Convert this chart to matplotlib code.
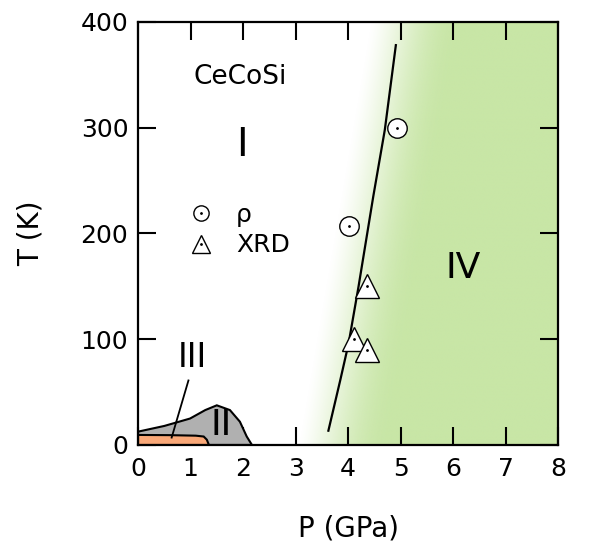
import numpy as np
import matplotlib
matplotlib.use("Agg")
import matplotlib.pyplot as plt
from matplotlib.legend_handler import HandlerTuple

# phase boundary I -> IV (line)
line_p = [3.625, 3.85, 4.01, 4.2, 4.48, 4.70, 4.91]
line_t = [13.5, 61, 96, 150, 235, 298, 378]

# phase II region (gray) outline
ph2_p = [0.0, 0.5, 0.99, 1.28, 1.5, 1.75, 1.94, 2.07, 2.17]
ph2_t = [12.6, 18, 25, 33, 37.5, 33, 22, 8, 0]

# phase III region (orange) outline
ph3_p = [0.0, 0.6, 1.1, 1.25, 1.31, 1.35]
ph3_t = [9.5, 9.3, 8.8, 8, 5, 0]

# data points
rho_p = [4.93, 4.02]
rho_t = [300, 207]
xrd_p = [4.36, 4.11, 4.36]
xrd_t = [150, 100, 90]

green = np.array([200, 230, 166]) / 255.0

fig = plt.figure(figsize=(5.95, 5.47), dpi=100)
ax = fig.add_axes([0.232, 0.1865, 0.706, 0.7735])

# gradient shading for phase IV
gx = np.linspace(0, 8, 800)
gy = np.linspace(0, 400, 200)
GX, GY = np.meshgrid(gx, gy)
edge = 3.05 + GY * (1.3 / 380)
t = np.clip((GX - edge) / 1.7, 0, 1)
frac = np.sin(t * np.pi / 2) ** 1.3
img = np.zeros(GX.shape + (4,))
img[..., :3] = green
img[..., 3] = frac
ax.imshow(img, extent=[0, 8, 0, 400], origin="lower", aspect="auto", zorder=0,
          interpolation="bilinear")

# phases II and III
ax.fill(ph2_p + [0], ph2_t + [0], facecolor="#b0b0b0", edgecolor="black", lw=1.5, zorder=2)
ax.fill(ph3_p + [0], ph3_t + [0], facecolor="#f9a878", edgecolor="black", lw=1.5, zorder=3)

ax.plot(line_p, line_t, color="black", lw=1.6, zorder=4)

# markers with centre dot
ax.plot(rho_p, rho_t, "o", ms=14, mfc="white", mec="black", mew=1.0, ls="none", zorder=5)
ax.plot(rho_p, rho_t, ".", ms=2, color="black", zorder=6)
ax.plot(xrd_p, xrd_t, "^", ms=17, mfc="white", mec="black", mew=1.0, ls="none", zorder=5)
ax.plot(xrd_p, xrd_t, ".", ms=2, color="black", zorder=6)

# legend handles
hc, = ax.plot([], [], "o", ms=11, mfc="white", mec="black", mew=1.0, ls="none")
ht, = ax.plot([], [], "^", ms=13, mfc="white", mec="black", mew=1.0, ls="none")
hd, = ax.plot([], [], ".", ms=2, color="black", ls="none")
ax.legend([(hc, hd), (ht, hd)], ["ρ", "XRD"], handler_map={tuple: HandlerTuple(ndivide=1)},
          loc="upper left", bbox_to_anchor=(0.09, 0.595), frameon=False, fontsize=18,
          handlelength=1.2, handletextpad=0.8, labelspacing=0.25, borderaxespad=0)

# labels
ax.text(1.94, 348, "CeCoSi", fontsize=19, ha="center", va="center")
ax.text(1.98, 284, "I", fontsize=28, ha="center", va="center")
ax.text(6.19, 167, "IV", fontsize=26, ha="center", va="center")
ax.text(1.59, 19, "II", fontsize=26, ha="center", va="center", zorder=7)
ax.text(1.03, 83, "III", fontsize=24, ha="center", va="center")
ax.plot([0.96, 0.64], [61, 7], color="black", lw=1.3, zorder=7)

ax.set_xlim(0, 8)
ax.set_ylim(0, 400)
ax.set_xticks(range(0, 9))
ax.set_yticks([0, 100, 200, 300, 400])
ax.tick_params(direction="in", length=13, width=1.5, top=True, right=True,
               labelsize=18)
ax.tick_params(axis="x", pad=9)
ax.tick_params(axis="y", pad=7)
for s in ax.spines.values():
    s.set_linewidth(1.6)
    s.set_zorder(8)

ax.set_xlabel("P (GPa)", fontsize=20, labelpad=24)
ax.set_ylabel("T (K)", fontsize=20, labelpad=26)

fig.savefig("out.png", dpi=100)
